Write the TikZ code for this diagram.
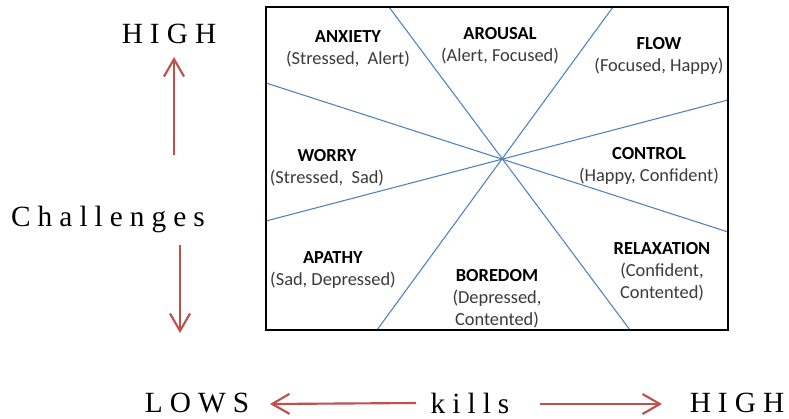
\documentclass[tikz,border=0pt]{standalone}
\usepackage{fontspec}
\setmainfont{Liberation Serif}
\newfontfamily\calibri{Carlito}
\newfontfamily\spaced[LetterSpace=24]{Liberation Serif}
\usetikzlibrary{arrows.meta}
\definecolor{lineblue}{HTML}{4F81BD}
\definecolor{arrowred}{HTML}{C0504D}
\definecolor{subgray}{HTML}{3A3A3A}
\tikzset{
  zone/.style={align=center,inner sep=0pt,font=\calibri\fontsize{13.8}{16.5}\selectfont},
  axislabel/.style={inner sep=0pt,font=\spaced\fontsize{22}{24}\selectfont},
  redarrow/.style={draw=arrowred,line width=1.6pt,-{Straight Barb[length=13pt,width=15pt,line width=1.6pt]}}
}
\newcommand{\zonesub}[1]{\textcolor{subgray}{#1}}
\begin{document}
\begin{tikzpicture}[x=0.75pt,y=-0.75pt]
  \useasboundingbox (0,0) rectangle (789,418);
  % frame and the four lines through the middle
  \draw[lineblue,line width=0.8pt] (389,7) -- (630,330);
  \draw[lineblue,line width=0.8pt] (613,7) -- (377,330);
  \draw[lineblue,line width=0.8pt] (266,83) -- (728,232);
  \draw[lineblue,line width=0.8pt] (266,221) -- (728,100);
  \draw[line width=1.6pt] (266,7) rectangle (728,330);
  % zones
  \node[zone] (anxiety) at (348,48.5) {\textbf{ANXIETY}\\\zonesub{(Stressed,\ \ Alert)}};
  \node[zone] (arousal) at (500,45.5) {\textbf{AROUSAL}\\\zonesub{(Alert, Focused)}};
  \node[zone] (flow) at (659,55.5) {\textbf{FLOW}\\\zonesub{(Focused, Happy)}};
  \node[zone] (worry) at (327,167.5) {\textbf{WORRY}\\\zonesub{(Stressed,\ \ Sad)}};
  \node[zone] (control) at (649,165.5) {\textbf{CONTROL}\\\zonesub{(Happy, Confident)}};
  \node[zone] (apathy) at (333,270.5) {\textbf{APATHY}\\\zonesub{(Sad, Depressed)}};
  \node[zone] (boredom) at (497,298.5) {\textbf{BOREDOM}\\\zonesub{(Depressed,}\\\zonesub{Contented)}};
  \node[zone] (relax) at (662,271.5) {\textbf{RELAXATION}\\\zonesub{(Confident,}\\\zonesub{Contented)}};
  % axes
  \node[axislabel] (highy) at (169,34) {HIGH};
  \node[axislabel] (chal) at (108,219) {Challenges};
  \node[axislabel] (lows) at (197,403) {LOWS};
  \node[axislabel] (kills) at (470,403) {kills};
  \node[axislabel] (highx) at (737,403) {HIGH};
  \coordinate (upA) at (174,155);
  \coordinate (upB) at (174,57);
  \coordinate (dnA) at (180,245);
  \coordinate (dnB) at (180,333);
  \coordinate (ltA) at (416,403);
  \coordinate (ltB) at (270,404);
  \coordinate (rtA) at (540,404);
  \coordinate (rtB) at (662,404);
  \draw[redarrow] (upA) -- (upB);
  \draw[redarrow] (dnA) -- (dnB);
  \draw[redarrow] (ltA) -- (ltB);
  \draw[redarrow] (rtA) -- (rtB);
\end{tikzpicture}
\end{document}
